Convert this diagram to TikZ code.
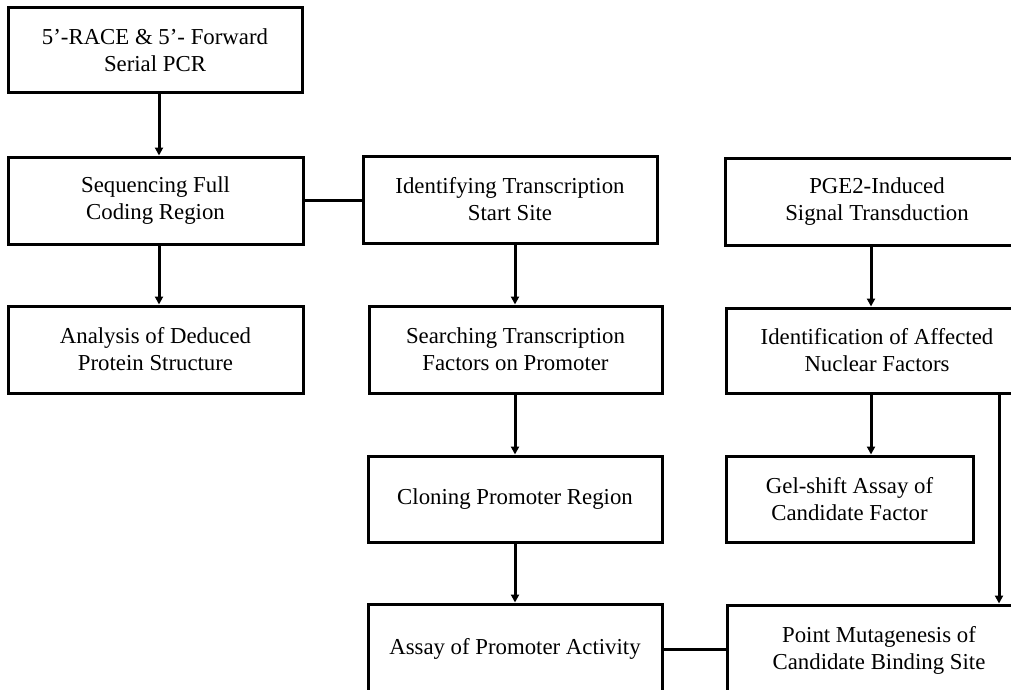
\documentclass[tikz,border=0pt]{standalone}
\usepackage{fontspec}
\setmainfont{Liberation Serif}
\usetikzlibrary{arrows.meta,calc}
\begin{document}
\begin{tikzpicture}[x=1pt,y=-1pt,
  stepbox/.style={draw=black,line width=3pt,fill=white,inner sep=0pt,align=center,
    font=\fontsize{22.8}{27}\selectfont,text=black},
  arr/.style={line width=3pt,-{Triangle[length=8pt,width=8pt]}},
  link/.style={line width=3pt}]
\useasboundingbox (0,0) rectangle (1011,690);
\clip (0,0) rectangle (1011,690);
\coordinate (colL) at (159,0);
\coordinate (colM) at (515,0);
\coordinate (colR) at (871,0);
\coordinate (colE) at (999,0);
\node[stepbox,minimum width=294pt,minimum height=85pt] (A) at (155,50.5) {5'-RACE \& 5'- Forward\\Serial PCR};
\node[stepbox,minimum width=295pt,minimum height=87pt] (B) at (155.5,200.5) {Sequencing Full\\Coding Region};
\node[stepbox,minimum width=295pt,minimum height=87pt] (C) at (155.5,349.5) {Analysis of Deduced\\Protein Structure};
\node[stepbox,minimum width=294pt,minimum height=87pt] (D) at (510,199.5) {Identifying Transcription\\Start Site};
\node[stepbox,minimum width=293pt,minimum height=87pt] (E) at (515.5,349.5) {Searching Transcription\\Factors on Promoter};
\node[stepbox,minimum width=294pt,minimum height=86pt] (F) at (515,499) {Cloning Promoter Region};
\node[stepbox,minimum width=294pt,minimum height=90pt] (G) at (515,649) {Assay of Promoter Activity};
\node[stepbox,minimum width=304pt,minimum height=87pt] (H) at (877,201.5) {PGE2-Induced\\Signal Transduction};
\node[stepbox,minimum width=302pt,minimum height=85pt] (I) at (877,350.5) {Identification of Affected\\Nuclear Factors};
\node[stepbox,minimum width=247pt,minimum height=86pt] (J) at (849.5,499) {Gel-shift Assay of\\Candidate Factor};
\node[stepbox,minimum width=304pt,minimum height=90pt] (K) at (879,650) {Point Mutagenesis of\\Candidate Binding Site};
\draw[arr] (A.south -| colL) -- (B.north -| colL);
\draw[arr] (B.south -| colL) -- (C.north -| colL);
\draw[arr] (D.south -| colM) -- (E.north -| colM);
\draw[arr] (E.south -| colM) -- (F.north -| colM);
\draw[arr] (F.south -| colM) -- (G.north -| colM);
\draw[arr] (H.south -| colR) -- (I.north -| colR);
\draw[arr] (I.south -| colR) -- (J.north -| colR);
\draw[arr] (I.south -| colE) -- (K.north -| colE);
\draw[link] (B.east) -- (B.east -| D.west);
\draw[link] (G.east) -- (G.east -| K.west);
\end{tikzpicture}
\end{document}
